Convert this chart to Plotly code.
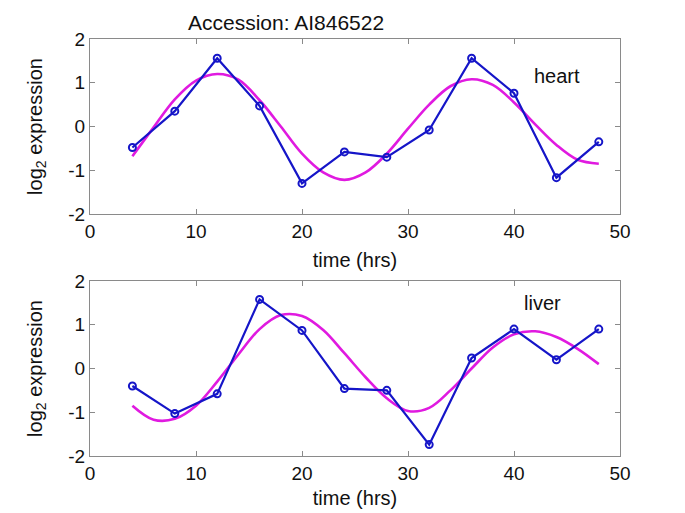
import plotly.graph_objects as go

# ---- data ----
hours = [4, 8, 12, 16, 20, 24, 28, 32, 36, 40, 44, 48]
heart_expr = [-0.48, 0.35, 1.56, 0.47, -1.30, -0.58, -0.70, -0.08, 1.56, 0.76, -1.17, -0.35]
liver_expr = [-0.40, -1.03, -0.58, 1.58, 0.87, -0.46, -0.50, -1.74, 0.24, 0.90, 0.20, 0.90]

fit_hours = [4, 6, 8, 10, 12, 14, 16, 18, 20, 22, 24, 26, 28, 30, 32, 34, 36, 38, 40, 42, 44, 46, 48]
heart_fit = [-0.68, -0.02, 0.62, 1.05, 1.20, 1.07, 0.60, 0.00, -0.62, -1.05, -1.22, -1.05, -0.62,
             -0.05, 0.50, 0.92, 1.08, 0.95, 0.55, 0.05, -0.42, -0.76, -0.85]
liver_fit = [-0.85, -1.17, -1.15, -0.85, -0.30, 0.32, 0.90, 1.22, 1.20, 0.88, 0.35, -0.20, -0.68,
             -0.97, -0.90, -0.50, 0.00, 0.48, 0.78, 0.85, 0.72, 0.45, 0.10]

title_text = "Accession: AI846522"
x_ticks = [0, 10, 20, 30, 40, 50]
x_tick_labels = ["0", "10", "20", "30", "40", "50"]
y_ticks = [-2, -1, 0, 1, 2]
y_tick_labels = ["-2", "-1", "0", "1", "2"]

# ---- style ----
FONT = "Liberation Sans, Arial, sans-serif"
BLUE = "#1515c8"
MAGENTA = "#e01ae0"
TXT = "#111111"
W, H = 685, 513
OFF = 8  # browser body margin

def px_x(px):
    return (px - OFF) / W

def py(px):
    return 1 - (px - OFF) / H

fig = go.Figure()

panels = [
    (heart_expr, heart_fit, "x", "y"),
    (liver_expr, liver_fit, "x2", "y2"),
]
for expr, fit, xa, ya in panels:
    fig.add_trace(go.Scatter(x=fit_hours, y=fit, mode="lines", line=dict(color=MAGENTA, width=2.6, shape="spline"),
                             xaxis=xa, yaxis=ya, showlegend=False, hoverinfo="skip"))
    fig.add_trace(go.Scatter(x=hours, y=expr, mode="lines+markers", line=dict(color=BLUE, width=2.2),
                             marker=dict(symbol="circle-open", size=7, color=BLUE, line=dict(width=2)),
                             xaxis=xa, yaxis=ya, showlegend=False))

axis_common = dict(
    showgrid=False, zeroline=False, showline=True, linecolor="#8a8a8a", linewidth=1,
    mirror="ticks", ticks="inside", ticklen=5, tickcolor="#8a8a8a", automargin=False,
    tickfont=dict(family=FONT, size=19, color=TXT),
)
ytitle = dict(text="log<sub>2</sub> expression", font=dict(family=FONT, size=20, color=TXT), standoff=20)
xdom = [px_x(90), px_x(620)]
fig.update_layout(
    width=W, height=H,
    margin=dict(l=0, r=0, t=0, b=0),
    paper_bgcolor="white", plot_bgcolor="white",
    xaxis=dict(axis_common, domain=xdom, range=[0, 50], tickvals=x_ticks, ticktext=x_tick_labels,
               anchor="y", title=dict(text="time (hrs)", font=dict(family=FONT, size=20, color=TXT), standoff=12)),
    yaxis=dict(axis_common, domain=[py(214), py(39)], range=[-2, 2], tickvals=y_ticks, ticktext=y_tick_labels,
               anchor="x", title=ytitle),
    xaxis2=dict(axis_common, domain=xdom, range=[0, 50], tickvals=x_ticks, ticktext=x_tick_labels,
                anchor="y2", title=dict(text="time (hrs)", font=dict(family=FONT, size=20, color=TXT), standoff=8)),
    yaxis2=dict(axis_common, domain=[py(456), py(281)], range=[-2, 2], tickvals=y_ticks, ticktext=y_tick_labels,
                anchor="x2", title=ytitle),
    annotations=[
        dict(text=title_text, x=px_x(286), y=py(22), xref="paper", yref="paper", showarrow=False,
             font=dict(family=FONT, size=21, color=TXT), xanchor="center", yanchor="middle"),
        dict(text="heart", x=44.1, y=1.15, xref="x", yref="y", showarrow=False,
             font=dict(family=FONT, size=20, color=TXT), xanchor="center", yanchor="middle"),
        dict(text="liver", x=42.7, y=1.5, xref="x2", yref="y2", showarrow=False,
             font=dict(family=FONT, size=20, color=TXT), xanchor="center", yanchor="middle"),
    ],
)

fig.write_html("out.html")
